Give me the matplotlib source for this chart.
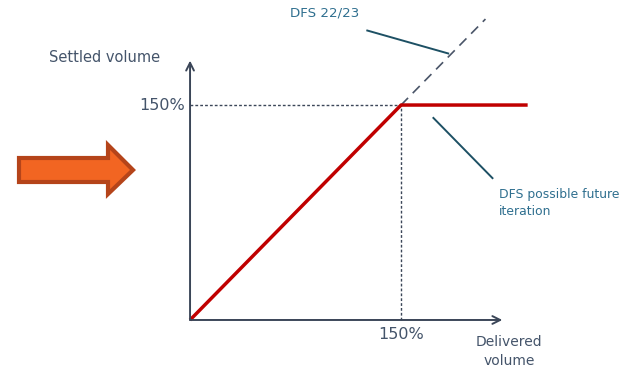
import matplotlib
matplotlib.use("Agg")
import matplotlib.pyplot as plt
from matplotlib.patches import Polygon

# data (percent of volume)
delivered = [0, 150, 240]
settled_future = [0, 150, 150]
dfs_2223_x = [150, 210]
dfs_2223_y = [150, 210]
cap = 150
x_axis_end = 222
y_axis_end = 181

axis_col = "#3b4658"
text_col = "#44546a"
note_col = "#2f6f8f"
lead_col = "#1d5064"
red = "#c00000"

plt.rcParams["font.family"] = ["DejaVu Sans"]

fig = plt.figure(figsize=(6.34, 3.70), dpi=100)
ax = fig.add_axes([0, 0, 1, 1])
ax.set_xlim(-135.1, 315.6)
ax.set_ylim(-34.9, 223.3)
ax.axis("off")

# axes with arrows
ax.annotate("", xy=(x_axis_end, 0), xytext=(0, 0),
            arrowprops=dict(arrowstyle="->", color=axis_col, lw=1.4,
                            mutation_scale=14, shrinkA=0, shrinkB=0))
ax.annotate("", xy=(0, y_axis_end), xytext=(0, 0),
            arrowprops=dict(arrowstyle="->", color=axis_col, lw=1.4,
                            mutation_scale=14, shrinkA=0, shrinkB=0))

# guide lines at 150%
ax.plot([0, cap], [cap, cap], ls=(0, (2, 1.5)), color=axis_col, lw=1)
ax.plot([cap, cap], [0, cap], ls=(0, (2, 1.5)), color=axis_col, lw=1)

# DFS 22/23 continuation
ax.plot(dfs_2223_x, dfs_2223_y, ls=(0, (6, 4)), color="#4a5568", lw=1.2)

# capped line
ax.plot(delivered, settled_future, color=red, lw=2.5, solid_capstyle="butt")

# labels
ax.text(-3.5, cap, "150%", ha="right", va="center", fontsize=11.5, color=text_col)
ax.text(cap, -10, "150%", ha="center", va="center", fontsize=11.5, color=text_col)
ax.text(-100, 183, "Settled volume", ha="left", va="center", fontsize=10.5, color=text_col)
ax.text(226.8, -22, "Delivered\nvolume", ha="center", va="center", fontsize=10,
        color=text_col, linespacing=1.5)

ax.text(96, 214.5, "DFS 22/23", ha="center", va="center", fontsize=9.6, color=note_col)
ax.plot([126, 183.5], [202, 186], color=lead_col, lw=1.4)
ax.text(219.5, 92, "DFS possible future\niteration", ha="left", va="top", fontsize=8.9,
        color=note_col, linespacing=1.4)
ax.plot([173, 215], [141, 99], color=lead_col, lw=1.4)

# decorative orange arrow (figure pixels)
W, H = 634, 370
pts = [(19, 158), (108, 158), (108, 145), (133, 170), (108, 194), (108, 182), (19, 182)]
arrow = Polygon([(x / W, 1 - y / H) for x, y in pts], closed=True,
                transform=fig.transFigure, facecolor="#f26522",
                edgecolor="#b5441a", lw=3, joinstyle="miter")
fig.patches.append(arrow)

fig.savefig("out.png", dpi=100)
